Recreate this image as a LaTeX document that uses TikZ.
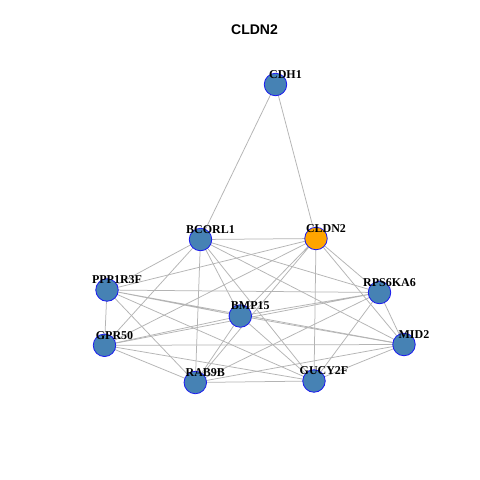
\documentclass[tikz,border=0pt]{standalone}
\usepackage{fontspec}
\setmainfont{Liberation Serif}
\newfontfamily\titlefont{Liberation Sans}
\definecolor{geneSteel}{HTML}{4682B4}
\definecolor{geneOrange}{HTML}{FFA500}
\definecolor{geneFrame}{HTML}{1A1AF0}
\definecolor{geneEdge}{HTML}{B4B4B4}
\usetikzlibrary{backgrounds}

\begin{document}
\begin{tikzpicture}[
    x=1pt, y=-1pt,
    gene/.style={
      circle,
      draw=geneFrame,
      fill=geneSteel,
      line width=0.8pt,
      minimum size=22.5pt,
      inner sep=0pt,
    },
    hub/.style={gene, fill=geneOrange},
    lab/.style={
      font=\fontsize{12}{14}\selectfont\bfseries,
      inner sep=0pt,
      xshift=10pt, yshift=10pt,
    },
    edge/.style={geneEdge, line width=0.75pt},
  ]
    % Title
    \node[font=\titlefont\fontsize{14}{16}\selectfont\bfseries] (title) at (254.5,30) {CLDN2};

    % Genes
    \node[gene, label={[lab, name=CDH1-l]center:CDH1}] (CDH1) at (275.5,84.5) {};
    \node[gene, label={[lab, name=BCORL1-l]center:BCORL1}] (BCORL1) at (200.5,239.5) {};
    \node[hub, label={[lab, name=CLDN2-l]center:CLDN2}] (CLDN2) at (316,238.5) {};
    \node[gene, label={[lab, name=PPP1R3F-l]center:PPP1R3F}] (PPP1R3F) at (107,290) {};
    \node[gene, label={[lab, name=RPS6KA6-l]center:RPS6KA6}] (RPS6KA6) at (379.5,292.5) {};
    \node[gene, label={[lab, name=BMP15-l]center:BMP15}] (BMP15) at (240.3,316) {};
    \node[gene, label={[lab, name=GPR50-l]center:GPR50}] (GPR50) at (104.5,345.3) {};
    \node[gene, label={[lab, name=MID2-l]center:MID2}] (MID2) at (404,344.5) {};
    \node[gene, label={[lab, name=RAB9B-l]center:RAB9B}] (RAB9B) at (195.3,382.5) {};
    \node[gene, label={[lab, name=GUCY2F-l]center:GUCY2F}] (GUCY2F) at (314,381) {};

    \begin{scope}[on background layer]
      % Canvas
      \fill[white] (0,0) rectangle (480,480);

      % Links
      \draw[edge] (CDH1.center) -- (BCORL1.center) (CDH1.center) -- (CLDN2.center);
      \draw[edge] (BCORL1.center) -- (CLDN2.center) (BCORL1.center) -- (PPP1R3F.center)
        (BCORL1.center) -- (RPS6KA6.center) (BCORL1.center) -- (BMP15.center)
        (BCORL1.center) -- (GPR50.center) (BCORL1.center) -- (MID2.center)
        (BCORL1.center) -- (RAB9B.center) (BCORL1.center) -- (GUCY2F.center);
      \draw[edge] (CLDN2.center) -- (PPP1R3F.center) (CLDN2.center) -- (RPS6KA6.center)
        (CLDN2.center) -- (BMP15.center) (CLDN2.center) -- (GPR50.center)
        (CLDN2.center) -- (MID2.center) (CLDN2.center) -- (RAB9B.center)
        (CLDN2.center) -- (GUCY2F.center);
      \draw[edge] (PPP1R3F.center) -- (RPS6KA6.center) (PPP1R3F.center) -- (BMP15.center)
        (PPP1R3F.center) -- (GPR50.center) (PPP1R3F.center) -- (MID2.center)
        (PPP1R3F.center) -- (RAB9B.center) (PPP1R3F.center) -- (GUCY2F.center);
      \draw[edge] (RPS6KA6.center) -- (BMP15.center) (RPS6KA6.center) -- (GPR50.center)
        (RPS6KA6.center) -- (MID2.center) (RPS6KA6.center) -- (RAB9B.center)
        (RPS6KA6.center) -- (GUCY2F.center);
      \draw[edge] (BMP15.center) -- (GPR50.center) (BMP15.center) -- (MID2.center)
        (BMP15.center) -- (RAB9B.center) (BMP15.center) -- (GUCY2F.center);
      \draw[edge] (GPR50.center) -- (MID2.center) (GPR50.center) -- (RAB9B.center)
        (GPR50.center) -- (GUCY2F.center);
      \draw[edge] (MID2.center) -- (RAB9B.center) (MID2.center) -- (GUCY2F.center);
      \draw[edge] (RAB9B.center) -- (GUCY2F.center);
    \end{scope}

    \useasboundingbox (0,0) rectangle (480,480);
  \end{tikzpicture}
\end{document}
